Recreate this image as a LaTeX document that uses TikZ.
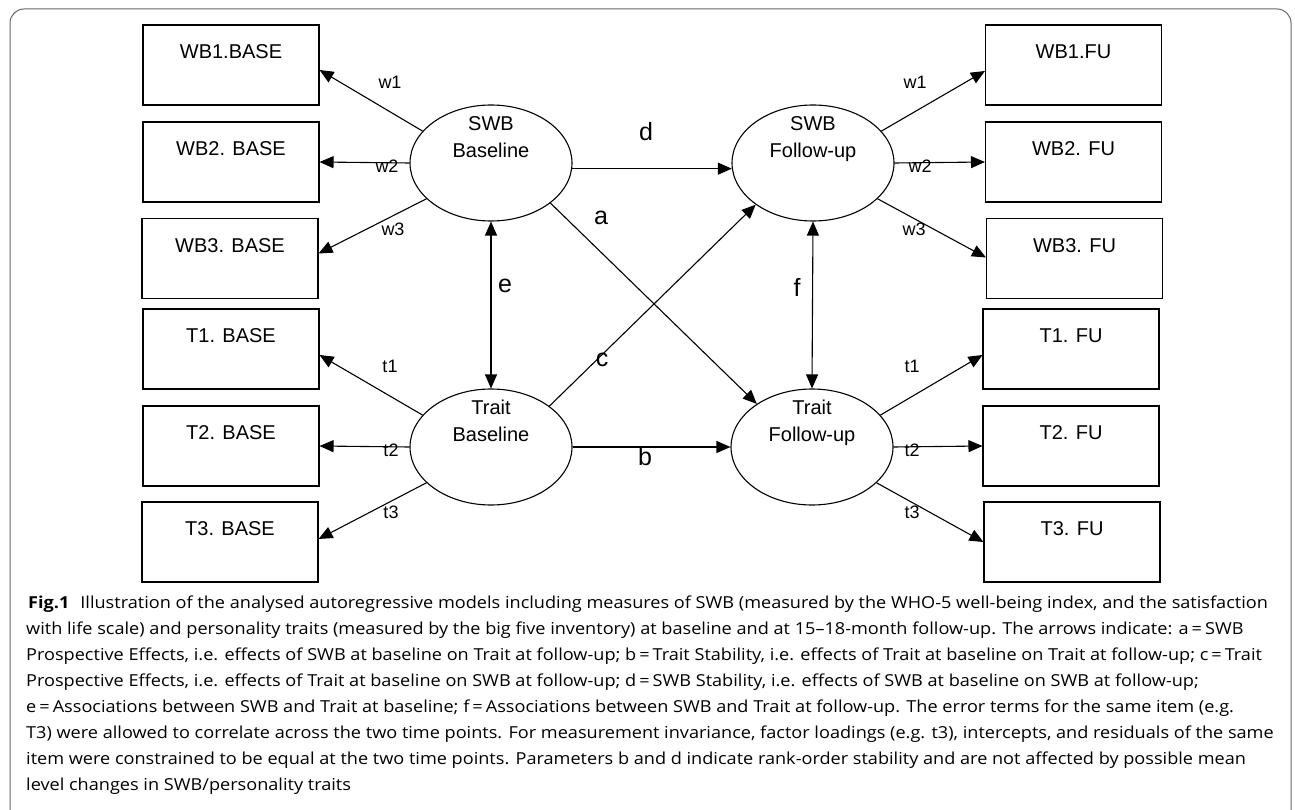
\documentclass[tikz,border=0pt]{standalone}
\usepackage{graphicx}
\usepackage{fontspec}
\setmainfont{Liberation Sans}
\newfontfamily\capfont[Ligatures=TeX]{Open Sans}
\newcommand{\capstretch}[1]{\scalebox{1.098}[1]{#1}}
\usetikzlibrary{arrows.meta,shapes.geometric}
\begin{document}
\begin{tikzpicture}[x=1pt,y=-1pt,
  box/.style={draw, line width=1.1pt, minimum width=176pt, minimum height=80pt, inner sep=0pt},
  boxtxt/.style={anchor=north, inner sep=0pt, font=\fontsize{20}{24}\selectfont},
  lat/.style={draw, ellipse, line width=1.1pt, minimum width=162pt, minimum height=116pt, inner sep=0pt},
  lattxt/.style={anchor=north, inner sep=0pt, align=center, font=\fontsize{20}{27}\selectfont},
  arr/.style={line width=1.1pt, -{Triangle[length=14pt,width=12pt]}},
  darr/.style={line width=1.1pt, {Triangle[length=14pt,width=12pt]}-{Triangle[length=14pt,width=12pt]}},
  small/.style={inner sep=0pt, font=\fontsize{18}{20}\selectfont},
  big/.style={inner sep=0pt, font=\fontsize{25}{27}\selectfont},
  capline/.style={anchor=base west, inner sep=0pt, font=\capfont\fontsize{16.5}{26}\selectfont},
]
\clip (0,0) rectangle (1295,810);
\fill[white] (0,0) rectangle (1295,810);
\draw[line width=1pt, color=black!60, rounded corners=14pt] (10,9) rectangle (1291,832);

% boxes left
\node[box] (wb1b) at (231,65) {};
\node[box] (wb2b) at (231,162) {};
\node[box] (wb3b) at (230,258.5) {};
\node[box] (t1b) at (231,349) {};
\node[box] (t2b) at (231,446) {};
\node[box] (t3b) at (230,542) {};
% boxes right
\node[box] (wb1f) at (1073.5,65) {};
\node[box] (wb2f) at (1073.5,162) {};
\node[box] (wb3f) at (1074.5,258.5) {};
\node[box] (t1f) at (1071,349) {};
\node[box] (t2f) at (1071,446) {};
\node[box] (t3f) at (1072,542) {};

\node[boxtxt] (wb1bt) at ([yshift=-20pt]wb1b.north) {WB1.BASE};
\node[boxtxt] (wb2bt) at ([yshift=-20pt]wb2b.north) {WB2. BASE};
\node[boxtxt] (wb3bt) at ([yshift=-20pt]wb3b.north) {WB3. BASE};
\node[boxtxt] (t1bt) at ([yshift=-20pt]t1b.north) {T1. BASE};
\node[boxtxt] (t2bt) at ([yshift=-20pt]t2b.north) {T2. BASE};
\node[boxtxt] (t3bt) at ([yshift=-20pt]t3b.north) {T3. BASE};
\node[boxtxt] (wb1ft) at ([yshift=-20pt]wb1f.north) {WB1.FU};
\node[boxtxt] (wb2ft) at ([yshift=-20pt]wb2f.north) {WB2. FU};
\node[boxtxt] (wb3ft) at ([yshift=-20pt]wb3f.north) {WB3. FU};
\node[boxtxt] (t1ft) at ([yshift=-20pt]t1f.north) {T1. FU};
\node[boxtxt] (t2ft) at ([yshift=-20pt]t2f.north) {T2. FU};
\node[boxtxt] (t3ft) at ([yshift=-20pt]t3f.north) {T3. FU};

% latent variables
\node[lat] (swbb) at (491,163) {};
\node[lat] (swbf) at (813,163) {};
\node[lat] (tb) at (491,447) {};
\node[lat] (tf) at (812,447) {};
\node[lattxt] (swbbt) at ([yshift=-12pt]swbb.north) {SWB\\Baseline};
\node[lattxt] (swbft) at ([yshift=-12pt]swbf.north) {SWB\\Follow-up};
\node[lattxt] (tbt) at ([yshift=-11pt]tb.north) {Trait\\Baseline};
\node[lattxt] (tft) at ([yshift=-11pt]tf.north) {Trait\\Follow-up};

% loadings
\draw[arr] (swbb.155) -- ([yshift=-5pt]wb1b.east);
\draw[arr] (swbb.west) -- (wb2b.east);
\draw[arr] (swbb.209) -- ([yshift=5pt]wb3b.east);
\draw[arr] (swbf.25) -- ([yshift=-6pt]wb1f.west);
\draw[arr] (swbf.east) -- (wb2f.west);
\draw[arr] (swbf.331) -- ([yshift=1pt]wb3f.west);
\draw[arr] (tb.155) -- ([yshift=-6pt]t1b.east);
\draw[arr] (tb.west) -- (t2b.east);
\draw[arr] (tb.209) -- ([yshift=3pt]t3b.east);
\draw[arr] (tf.25) -- ([yshift=-6pt]t1f.west);
\draw[arr] (tf.east) -- (t2f.west);
\draw[arr] (tf.331) -- (t3f.west);

% structural paths
\draw[arr] (swbb.-4) -- (swbf.184);
\draw[arr] (tb.east) -- (tf.west);
\draw[arr] (swbb.-34) -- (tf.142);
\draw[arr] (tb.35) -- (swbf.216);
\draw[darr] (swbb.south) -- (tb.north);
\draw[darr] (swbf.south) -- (tf.north);

% labels
\node[small] (lw1b) at (390,82) {w1};
\node[small] (lw2b) at (387,166) {w2};
\node[small] (lw3b) at (393,229) {w3};
\node[small] (lw1f) at (915,82) {w1};
\node[small] (lw2f) at (920,166) {w2};
\node[small] (lw3f) at (914,229) {w3};
\node[small] (lt1b) at (390,366) {t1};
\node[small] (lt2b) at (391,450) {t2};
\node[small] (lt3b) at (391,512) {t3};
\node[small] (lt1f) at (912,366) {t1};
\node[small] (lt2f) at (912,450) {t2};
\node[small] (lt3f) at (912,512) {t3};
\node[big] (ld) at (646,132) {d};
\node[big] (la) at (601,218) {a};
\node[big] (lc) at (602,360) {c};
\node[big] (lb) at (645,457) {b};
\node[big] (le) at (505,286) {e};
\node[big] (lf) at (797,287) {f};

% caption
\node[capline] (c1) at (28,608) {\capstretch{\textbf{Fig.1}\hspace{10pt}Illustration of the analysed autoregressive models including measures of SWB (measured by the WHO-5 well-being index, and the satisfaction}};
\node[capline] (c2) at (26,634) {\capstretch{with life scale) and personality traits (measured by the big five inventory) at baseline and at 15–18-month follow-up. The arrows indicate: a\,=\,SWB}};
\node[capline] (c3) at (26,660) {\capstretch{Prospective Effects, i.e. effects of SWB at baseline on Trait at follow-up; b\,=\,Trait Stability, i.e. effects of Trait at baseline on Trait at follow-up; c\,=\,Trait}};
\node[capline] (c4) at (26,686) {\capstretch{Prospective Effects, i.e. effects of Trait at baseline on SWB at follow-up; d\,=\,SWB Stability, i.e. effects of SWB at baseline on SWB at follow-up;}};
\node[capline] (c5) at (26,712) {\capstretch{e\,=\,Associations between SWB and Trait at baseline; f\,=\,Associations between SWB and Trait at follow-up. The error terms for the same item (e.g.}};
\node[capline] (c6) at (26,738) {\capstretch{T3) were allowed to correlate across the two time points. For measurement invariance, factor loadings (e.g. t3), intercepts, and residuals of the same}};
\node[capline] (c7) at (26,764) {\capstretch{item were constrained to be equal at the two time points. Parameters b and d indicate rank-order stability and are not affected by possible mean}};
\node[capline] (c8) at (26,790) {\capstretch{level changes in SWB/personality traits}};
\end{tikzpicture}
\end{document}
